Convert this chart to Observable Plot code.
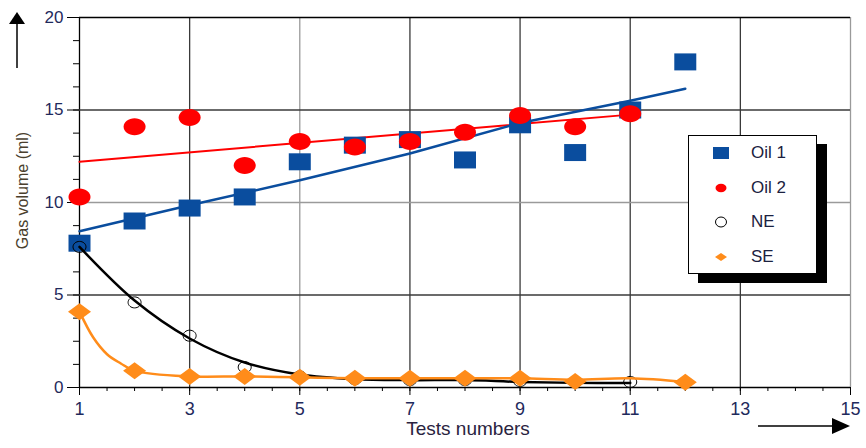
<!DOCTYPE html>
<html>
<head>
<meta charset="utf-8">
<script src="https://cdn.jsdelivr.net/npm/d3@7"></script>
<script src="https://cdn.jsdelivr.net/npm/@observablehq/plot@0.6"></script>
<style>
  html, body { margin: 0; padding: 0; background: #fff; }
  #wrap { position: relative; width: 866px; height: 448px; font-family: "Liberation Sans", Arial, sans-serif; }
  #legend { position: absolute; left: 688px; top: 135px; width: 127px; height: 137px; background: #fff;
            border: 1px solid #000; box-shadow: 10px 9px 0 #000; }
  .row { position: absolute; left: 0; height: 20px; display: flex; align-items: center; }
  .row svg { position: absolute; left: 22px; }
  .row span { position: absolute; left: 62px; font-size: 17px; color: #1b2140; white-space: nowrap; }
</style>
</head>
<body>
<div id="wrap"></div>
<script>
// ---- data ----
const xTicks = [1, 3, 5, 7, 9, 11, 13, 15];
const xMinor = d3.range(1, 15.01, 0.5);
const yTicks = [0, 5, 10, 15, 20];
const yMinor = d3.range(0, 20.01, 1.25);

const oil1X = [1, 2, 3, 4, 5, 6, 7, 8, 9, 10, 11, 12];
const oil1 = [7.8, 9.0, 9.7, 10.3, 12.2, 13.1, 13.4, 12.3, 14.2, 12.7, 15.0, 17.6];
const oil2X = [1, 2, 3, 4, 5, 6, 7, 8, 9, 10, 11];
const oil2 = [10.3, 14.1, 14.6, 12.0, 13.3, 13.0, 13.3, 13.8, 14.7, 14.1, 14.8];
const neX = [1, 2, 3, 4, 5, 6, 7, 8, 9, 10, 11];
const ne = [7.6, 4.6, 2.8, 1.1, 0.6, 0.45, 0.4, 0.4, 0.35, 0.3, 0.3];
const seX = [1, 2, 3, 4, 5, 6, 7, 8, 9, 10, 12];
const se = [4.1, 0.9, 0.6, 0.6, 0.55, 0.5, 0.5, 0.5, 0.5, 0.33, 0.28];

// fitted curves drawn in the chart
const oil1FitX = [1, 3, 5, 7, 9, 11, 12];
const oil1Fit = [8.45, 9.85, 11.2, 12.65, 14.3, 15.5, 16.15];
const oil2FitX = [1, 11];
const oil2Fit = [12.2, 14.75];
const neFitX = [1, 2, 3, 4, 5, 6, 7, 8, 9, 10, 11];
const neFit = [7.6, 4.7, 2.65, 1.35, 0.7, 0.45, 0.4, 0.4, 0.3, 0.25, 0.25];
const seFitX = [1, 1.25, 1.5, 1.75, 2, 3, 4, 5, 6, 7, 8, 9, 10, 11, 12];
const seFit = [4.1, 2.7, 1.8, 1.3, 0.9, 0.6, 0.6, 0.55, 0.5, 0.5, 0.5, 0.5, 0.42, 0.5, 0.3];

const seriesNames = ["Oil 1", "Oil 2", "NE", "SE"];
const xLabel = "Tests numbers";
const yLabel = "Gas volume (ml)";

// ---- styling ----
const BLUE = "#0a4d9e", RED = "#ff0000", ORANGE = "#ff8c1a", TICKC = "#1f2a5c";
const lightX = new Set([5, 15]), lightY = new Set([10]);

const zipXY = (xs, ys) => xs.map((x, i) => ({x, y: ys[i]}));

function ellipse(rx, ry) {
  return {draw(c) {
    const k = 0.5523;
    c.moveTo(rx, 0);
    c.bezierCurveTo(rx, ry * k, rx * k, ry, 0, ry);
    c.bezierCurveTo(-rx * k, ry, -rx, ry * k, -rx, 0);
    c.bezierCurveTo(-rx, -ry * k, -rx * k, -ry, 0, -ry);
    c.bezierCurveTo(rx * k, -ry, rx, -ry * k, rx, 0);
    c.closePath();
  }};
}
function rectSym(w, h) { return {draw(c) { c.rect(-w / 2, -h / 2, w, h); }}; }
function diamondSym(w, h) { return {draw(c) { c.moveTo(0, -h / 2); c.lineTo(w / 2, 0); c.lineTo(0, h / 2); c.lineTo(-w / 2, 0); c.closePath(); }}; }

const plot = Plot.plot({
  width: 866,
  height: 448,
  marginLeft: 79,
  marginRight: 16,
  marginTop: 17,
  marginBottom: 61,
  style: {fontFamily: "'Liberation Sans', Arial, sans-serif", background: "transparent"},
  x: {domain: [1, 15], axis: null},
  y: {domain: [0, 20], axis: null},
  marks: [
    Plot.ruleX(xTicks, {stroke: d => d === 1 ? "#000" : lightX.has(d) ? "#9a9a9a" : "#3a3a3a", strokeWidth: 1.3}),
    Plot.ruleY(yTicks, {stroke: d => d === 0 || d === 20 ? "#000" : lightY.has(d) ? "#9a9a9a" : "#3a3a3a", strokeWidth: 1.3}),
    Plot.axisX(xMinor, {tickSize: 4, text: null, stroke: "#000", label: null}),
    Plot.axisY(yMinor, {tickSize: 6, text: null, stroke: "#000", label: null}),
    Plot.axisX(xTicks, {tickSize: 8, tickPadding: 7, fontSize: 18, fill: TICKC, stroke: "#000", label: null}),
    Plot.axisY(yTicks, {tickSize: 12, tickPadding: 4, fontSize: 17, fill: TICKC, stroke: "#000", label: null}),
    Plot.line(zipXY(oil2FitX, oil2Fit), {x: "x", y: "y", stroke: RED, strokeWidth: 2}),
    Plot.line(zipXY(oil1FitX, oil1Fit), {x: "x", y: "y", stroke: BLUE, strokeWidth: 2.5}),
    Plot.dot(zipXY(oil1X, oil1), {x: "x", y: "y", symbol: rectSym(22, 17), fill: BLUE, stroke: "none"}),
    Plot.dot(zipXY(oil2X, oil2), {x: "x", y: "y", symbol: ellipse(11, 8.5), fill: RED, stroke: "none"}),
    Plot.line(zipXY(neFitX, neFit), {x: "x", y: "y", stroke: "#000", strokeWidth: 2.5, curve: "catmull-rom"}),
    Plot.dot(zipXY(neX, ne), {x: "x", y: "y", symbol: ellipse(6.5, 5.5), fill: "none", stroke: "#000", strokeWidth: 1}),
    Plot.line(zipXY(seFitX, seFit), {x: "x", y: "y", stroke: ORANGE, strokeWidth: 2.5, curve: "catmull-rom"}),
    Plot.dot(zipXY(seX, se), {x: "x", y: "y", symbol: diamondSym(23, 17), fill: ORANGE, stroke: "none"}),
    Plot.text([xLabel], {frameAnchor: "bottom", dx: 3, dy: 47, fontSize: 19, fill: "#2a2340", lineAnchor: "bottom"}),
    Plot.text([yLabel], {frameAnchor: "left", textAnchor: "middle", dx: -57, dy: -12, rotate: -90, fontSize: 16, fill: "#4a3f2e"})
  ]
});

const wrap = document.getElementById("wrap");
wrap.appendChild(plot);

// axis arrows (decoration outside the frame)
const svg = d3.select(plot);
const g = svg.append("g").attr("fill", "#000").attr("stroke", "#000");
g.append("line").attr("x1", 17).attr("y1", 68).attr("x2", 17).attr("y2", 22).attr("stroke-width", 1.5);
g.append("path").attr("d", "M17,12 L25,24 L9,24 Z").attr("stroke", "none");
g.append("line").attr("x1", 758).attr("y1", 426).attr("x2", 836).attr("y2", 426).attr("stroke-width", 1.5);
g.append("path").attr("d", "M850,426 L832,418 L832,434 Z").attr("stroke", "none");

// legend
const legend = document.createElement("div");
legend.id = "legend";
wrap.appendChild(legend);
const legendSyms = [
  s => s.append("rect").attr("x", 2).attr("y", 4).attr("width", 16).attr("height", 12).attr("fill", BLUE),
  s => s.append("ellipse").attr("cx", 10).attr("cy", 10).attr("rx", 5.5).attr("ry", 4.2).attr("fill", RED),
  s => s.append("ellipse").attr("cx", 10).attr("cy", 10).attr("rx", 5.5).attr("ry", 5).attr("fill", "none").attr("stroke", "#000"),
  s => s.append("path").attr("d", "M10,6 L16,10 L10,14 L4,10 Z").attr("fill", ORANGE)
];
const rowTops = [7, 42, 76, 111];
seriesNames.forEach((name, i) => {
  const row = document.createElement("div");
  row.className = "row";
  row.style.top = rowTops[i] + "px";
  legend.appendChild(row);
  const s = d3.select(row).append("svg").attr("width", 20).attr("height", 20);
  legendSyms[i](s);
  const t = document.createElement("span");
  t.textContent = name;
  row.appendChild(t);
});
</script>
</body>
</html>
